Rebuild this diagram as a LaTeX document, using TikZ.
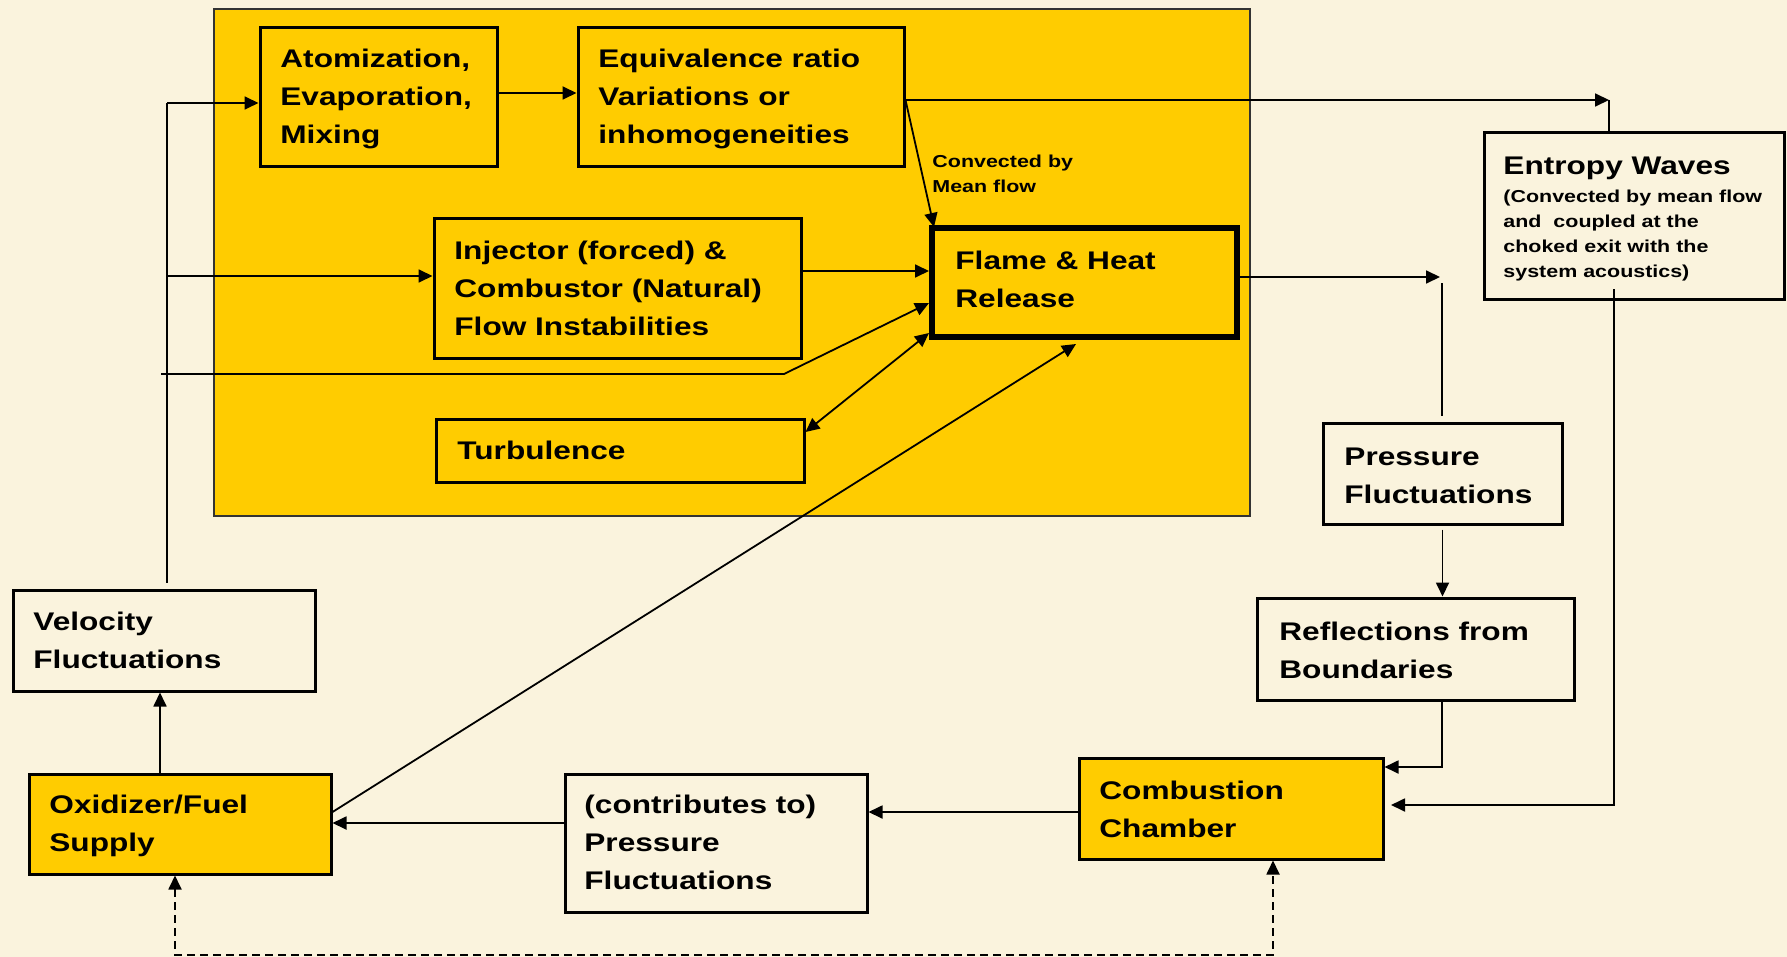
\documentclass[tikz,border=0pt]{standalone}
\usepackage{fontspec}
\setmainfont{Liberation Sans}[FakeStretch=1.24]
\usetikzlibrary{arrows.meta,fit}
\definecolor{bg}{RGB}{250,243,221}
\definecolor{gold}{RGB}{255,204,0}
\newcommand{\tl}[1]{\begin{tabular}[t]{@{}l@{}}#1\end{tabular}}
\tikzset{
  box/.style={draw, line width=1.5pt, inner sep=0pt, fill=bg},
  ybox/.style={box, fill=gold},
  lbl/.style={anchor=base west, inner sep=0pt, font=\bfseries\fontsize{12.75}{19}\selectfont},
  slbl/.style={anchor=base west, inner sep=0pt, font=\bfseries\fontsize{8.65}{12.5}\selectfont},
  arr/.style={-{Triangle[length=7pt,width=6.5pt]}, line width=0.9pt},
  darr/.style={{Triangle[length=7pt,width=6.5pt]}-{Triangle[length=7pt,width=6.5pt]}, line width=0.9pt},
  ln/.style={line width=0.9pt},
}
\begin{document}
\begin{tikzpicture}[x=0.5pt,y=-0.5pt]
\fill[bg] (0,0) rectangle (1787,957);
\useasboundingbox (0,0) rectangle (1787,957);
% big yellow region
\node[draw=black!80, line width=0.75pt, fill=gold, inner sep=0pt, fit={(214,9) (1250,516)}] (region) {};
% boxes
\node[ybox, fit={(260,28) (497,167)}] (atom) {};
\node[ybox, fit={(578,28) (904,167)}] (equiv) {};
\node[ybox, fit={(434,219) (801,358)}] (inj) {};
\node[ybox, line width=3pt, fit={(932,228) (1237,337)}] (flame) {};
\node[ybox, fit={(436,419) (804,482)}] (turb) {};
\node[box, fit={(1484,133) (1784,299)}] (entropy) {};
\node[box, fit={(1323,423) (1562,524)}] (press) {};
\node[box, fit={(1257,598) (1574,700)}] (refl) {};
\node[ybox, fit={(1079,758) (1383,859)}] (comb) {};
\node[box, fit={(565,774) (867,912)}] (contrib) {};
\node[ybox, fit={(29,774) (331,874)}] (oxid) {};
\node[box, fit={(13,590) (315,691)}] (vel) {};
% coordinates
\coordinate (f1) at (167,103);
\coordinate (vtop) at (167,583);
\coordinate (f2) at (167,276);
\coordinate (f3) at (161,374);
\coordinate (f3b) at (784,374);
\coordinate (e1) at (1609,100);
\coordinate (fhit) at (1076,344);
\coordinate (p1) at (1440,277);
\coordinate (p2) at (1442,283);
\coordinate (p3) at (1442,416);
\coordinate (r1) at (1442,767);
\coordinate (en0) at (1614,289);
\coordinate (en1) at (1614,805);
\coordinate (en2) at (1391,805);
\coordinate (ov) at (160,0);
\coordinate (d1) at (175,955);
\coordinate (d2) at (1273,955);
% connectors
\draw[arr] (f1) -- (f1 -| atom.west);
\draw[ln] (f1) -- (vtop);
\draw[arr] (f2) -- (f2 -| inj.west);
\draw[arr] (f3) -- (f3b) -- (flame.west |- 0,303);
\draw[arr] (inj.east |- 0,271) -- (flame.west |- 0,271);
\draw[arr] (atom.east |- 0,93) -- (equiv.west |- 0,93);
\draw[arr] (equiv.east |- 0,100) -- (e1);
\draw[ln] (e1) -- (e1 |- entropy.north);
\draw[arr] (equiv.east |- 0,100) -- (934,227);
\draw[darr] (turb.east |- 0,432) -- (flame.west |- 0,333);
\draw[arr] (oxid.east |- 0,812) -- (fhit);
\draw[arr] (flame.east |- 0,277) -- (p1);
\draw[ln] (p2) -- (p3);
\draw[arr] ([yshift=-2pt]press.south) -- (refl.north -| press.south);
\draw[arr] (refl.south -| r1) -- (r1) -- (r1 -| comb.east);
\draw[arr] (en0) -- (en1) -- (en2);
\draw[arr] (comb.west |- 0,812) -- (contrib.east |- 0,812);
\draw[arr] (contrib.west |- 0,823) -- (oxid.east |- 0,823);
\draw[arr] (oxid.north -| ov) -- (vel.south -| ov);
\draw[darr, dash pattern=on 4pt off 2.5pt] (oxid.south -| d1) -- (d1) -- (d2) -- (comb.south -| d2);
% texts
\node[lbl] (atomT) at (280,68) {\tl{Atomization,\\Evaporation,\\Mixing}};
\node[lbl] (equivT) at (598,68) {\tl{Equivalence ratio\\Variations or\\inhomogeneities}};
\node[lbl] (injT) at (454,259) {\tl{Injector (forced) \&\\Combustor (Natural)\\Flow Instabilities}};
\node[lbl] (flameT) at (955,270) {\tl{Flame \& Heat\\Release}};
\node[lbl] (turbT) at (457,459) {Turbulence};
\node[slbl] (convT) at (932,168) {\tl{Convected by\\Mean flow}};
\node[lbl] (entT) at (1503,175) {Entropy Waves};
\node[slbl] (entS) at (1503,203) {\tl{(Convected by mean flow\\and\ \ coupled at the\\choked exit with the\\system acoustics)}};
\node[lbl] (pressT) at (1344,465) {\tl{Pressure\\Fluctuations}};
\node[lbl] (reflT) at (1279,640) {\tl{Reflections from\\Boundaries}};
\node[lbl] (combT) at (1099,799) {\tl{Combustion\\Chamber}};
\node[lbl] (contribT) at (584,813) {\tl{(contributes to)\\Pressure\\Fluctuations}};
\node[lbl] (oxidT) at (49,813) {\tl{Oxidizer/Fuel\\Supply}};
\node[lbl] (velT) at (33,630) {\tl{Velocity\\Fluctuations}};
\end{tikzpicture}
\end{document}
